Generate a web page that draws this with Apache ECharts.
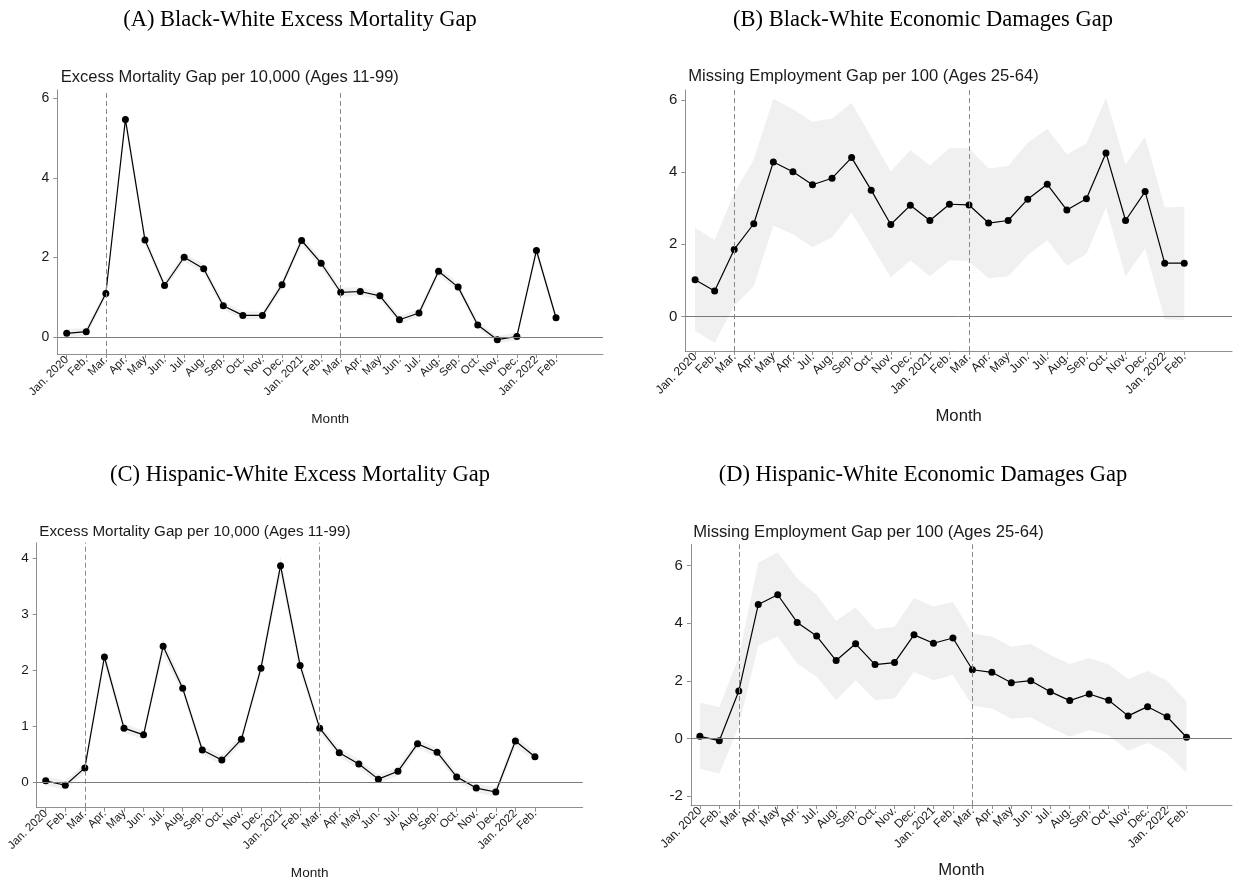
<!DOCTYPE html>
<html>
<head>
<meta charset="utf-8">
<title>Racial gaps in excess mortality and economic damages</title>
<script src="https://cdn.jsdelivr.net/npm/echarts@6/dist/echarts.min.js"></script>
<style>
  html, body { margin: 0; padding: 0; background: #ffffff; }
  #chart { width: 1235px; height: 884px; }
</style>
</head>
<body>
<div id="chart"></div>
<script>
// Month labels (Stata export keeps "Apr." in the sixth slot of the employment panels)
const monthsMortality = ["Jan. 2020","Feb.","Mar.","Apr.","May","Jun.","Jul.","Aug.","Sep.","Oct.","Nov.","Dec.",
  "Jan. 2021","Feb.","Mar.","Apr.","May","Jun.","Jul.","Aug.","Sep.","Oct.","Nov.","Dec.","Jan. 2022","Feb."];
const monthsEmployment = ["Jan. 2020","Feb.","Mar.","Apr.","May","Apr.","Jul.","Aug.","Sep.","Oct.","Nov.","Dec.",
  "Jan. 2021","Feb.","Mar.","Apr.","May","Jun.","Jul.","Aug.","Sep.","Oct.","Nov.","Dec.","Jan. 2022","Feb."];

// Months marking the start of the first and second pandemic years (Mar. 2020, Mar. 2021)
const markerMonths = [2, 14];

// (A) Black-White excess mortality gap per 10,000
const blackMortGap = [0.10,0.14,1.10,5.47,2.44,1.30,2.01,1.72,0.79,0.55,0.55,1.32,2.43,1.86,1.13,1.15,1.04,0.44,0.61,1.66,1.26,0.31,-0.06,0.02,2.18,0.49];
const blackMortLo  = [0.00,0.04,1.00,5.28,2.32,1.20,1.90,1.61,0.69,0.45,0.45,1.21,2.31,1.75,1.02,1.04,0.94,0.34,0.51,1.55,1.16,0.21,-0.15,-0.08,2.05,0.39];
const blackMortHi  = [0.20,0.24,1.20,5.66,2.56,1.40,2.12,1.83,0.89,0.65,0.65,1.43,2.55,1.97,1.24,1.26,1.14,0.54,0.71,1.77,1.36,0.41,0.03,0.12,2.31,0.59];

// (B) Black-White missing employment gap per 100
const blackEmpGap = [1.02,0.71,1.86,2.57,4.28,4.01,3.65,3.83,4.40,3.50,2.55,3.08,2.66,3.11,3.09,2.59,2.66,3.25,3.66,2.95,3.26,4.53,2.66,3.46,1.48,1.48];
const blackEmpLo  = [-0.39,-0.72,0.30,0.85,2.52,2.28,1.92,2.20,2.88,1.99,1.08,1.56,1.12,1.56,1.53,1.06,1.12,1.70,2.12,1.41,1.73,3.02,1.12,1.89,-0.07,-0.09];
const blackEmpHi  = [2.46,2.12,3.42,4.34,6.03,5.74,5.39,5.48,5.92,4.97,4.01,4.61,4.18,4.66,4.66,4.10,4.17,4.81,5.19,4.49,4.79,6.05,4.21,4.98,3.02,3.04];

// (C) Hispanic-White excess mortality gap per 10,000
const hispMortGap = [0.03,-0.05,0.26,2.24,0.97,0.85,2.43,1.68,0.58,0.40,0.77,2.04,3.87,2.09,0.97,0.53,0.33,0.06,0.20,0.69,0.54,0.10,-0.10,-0.17,0.74,0.46];
const hispMortLo  = [-0.05,-0.13,0.18,2.10,0.89,0.77,2.29,1.59,0.50,0.32,0.69,1.93,3.70,1.98,0.89,0.45,0.25,-0.02,0.12,0.61,0.46,0.02,-0.18,-0.25,0.64,0.38];
const hispMortHi  = [0.11,0.03,0.34,2.38,1.05,0.93,2.57,1.77,0.66,0.48,0.85,2.15,4.04,2.20,1.05,0.61,0.41,0.14,0.28,0.77,0.62,0.18,-0.02,-0.09,0.84,0.54];

// (D) Hispanic-White missing employment gap per 100
const hispEmpGap = [0.08,-0.07,1.65,4.65,4.99,4.03,3.56,2.71,3.29,2.57,2.64,3.60,3.31,3.49,2.39,2.30,1.94,2.01,1.63,1.32,1.55,1.33,0.79,1.11,0.76,0.05];
const hispEmpLo  = [-1.04,-1.21,0.42,3.23,3.54,2.61,2.15,1.34,2.03,1.34,1.39,2.31,2.03,2.21,1.14,1.05,0.69,0.74,0.38,0.07,0.30,0.12,-0.42,-0.14,-0.51,-1.18];
const hispEmpHi  = [1.25,1.09,2.84,6.10,6.46,5.55,4.99,4.09,4.55,3.79,3.88,4.88,4.58,4.74,3.65,3.54,3.19,3.28,2.90,2.59,2.80,2.57,2.06,2.35,2.01,1.29];

// Y tick values per panel
const yTicksA = [0, 2, 4, 6];
const yTicksB = [0, 2, 4, 6];
const yTicksC = [0, 1, 2, 3, 4];
const yTicksD = [-2, 0, 2, 4, 6];

// Panel titles and axis captions
const panelTitles = ["(A) Black-White Excess Mortality Gap", "(B) Black-White Economic Damages Gap",
  "(C) Hispanic-White Excess Mortality Gap", "(D) Hispanic-White Economic Damages Gap"];
const mortCaption = "Excess Mortality Gap per 10,000 (Ages 11-99)";
const empCaption = "Missing Employment Gap per 100 (Ages 25-64)";
const xCaption = "Month";

const SANS = "'Liberation Sans', Arial, Helvetica, sans-serif";
const SERIF = "'Liberation Serif', 'Times New Roman', serif";
const AXIS_GREY = "#8f8f8f";
const REF_GREY = "#8a8a8a";
const BAND = "#f0f0f0";
const INK = "#1a1a1a";

// Layout of each panel: plot box, axis extents, text sizes and positions
const panels = [
  { labels: monthsMortality, y: blackMortGap, lo: blackMortLo, hi: blackMortHi, yTicks: yTicksA,
    box: { left: 57.3, top: 90, width: 545.7, height: 264 }, xMin: -0.48, xMax: 27.40, yMin: -0.42, yMax: 6.21,
    yFont: 14, xFont: 11.5, caption: mortCaption, capX: 60.7, capY: 77.5, capFont: 16.5,
    title: panelTitles[0], titleX: 300, titleY: 20, monthY: 419.3, monthFont: 13.6 },
  { labels: monthsEmployment, y: blackEmpGap, lo: blackEmpLo, hi: blackEmpHi, yTicks: yTicksB,
    box: { left: 685.3, top: 90, width: 546.7, height: 261 }, xMin: -0.50, xMax: 27.44, yMin: -0.95, yMax: 6.27,
    yFont: 15, xFont: 12, caption: empCaption, capX: 688.3, capY: 76.5, capFont: 16.6,
    title: panelTitles[1], titleX: 923, titleY: 20, monthY: 416, monthFont: 16.7 },
  { labels: monthsMortality, y: hispMortGap, lo: hispMortLo, hi: hispMortHi, yTicks: yTicksC,
    box: { left: 36.7, top: 542.7, width: 546, height: 265 }, xMin: -0.46, xMax: 27.44, yMin: -0.45, yMax: 4.28,
    yFont: 13.5, xFont: 11.5, caption: mortCaption, capX: 39.3, capY: 532, capFont: 15.2,
    title: panelTitles[2], titleX: 300, titleY: 475, monthY: 873.3, monthFont: 13.6 },
  { labels: monthsEmployment, y: hispEmpGap, lo: hispEmpLo, hi: hispEmpHi, yTicks: yTicksD,
    box: { left: 690.9, top: 544.3, width: 541, height: 260.7 }, xMin: -0.46, xMax: 27.33, yMin: -2.30, yMax: 6.74,
    yFont: 15, xFont: 12, caption: empCaption, capX: 693.2, capY: 532, capFont: 16.6,
    title: panelTitles[3], titleX: 923, titleY: 475, monthY: 870, monthFont: 16.7 }
];

const grids = [], xAxes = [], yAxes = [], series = [], graphics = [];

panels.forEach((p, k) => {
  const idx = p.labels.map((_, i) => i);
  grids.push({ left: p.box.left, top: p.box.top, width: p.box.width, height: p.box.height, containLabel: false });

  xAxes.push({
    type: 'value', gridIndex: k, min: p.xMin, max: p.xMax,
    splitLine: { show: false },
    axisLine: { show: true, onZero: false, lineStyle: { color: AXIS_GREY, width: 1 } },
    axisTick: { show: true, length: 4, customValues: idx, lineStyle: { color: AXIS_GREY } },
    axisLabel: {
      show: true, customValues: idx, rotate: 45, margin: 4,
      fontFamily: SANS, fontSize: p.xFont, color: INK,
      formatter: (v) => p.labels[Math.round(v)]
    }
  });

  yAxes.push({
    type: 'value', gridIndex: k, min: p.yMin, max: p.yMax,
    splitLine: { show: false },
    axisLine: { show: true, onZero: false, lineStyle: { color: AXIS_GREY, width: 1 } },
    axisTick: { show: true, length: 4, customValues: p.yTicks, lineStyle: { color: AXIS_GREY } },
    axisLabel: { show: true, customValues: p.yTicks, margin: 8, fontFamily: SANS, fontSize: p.yFont, color: INK }
  });

  // Confidence band drawn as one polygon through the axis scales
  series.push({
    type: 'custom', xAxisIndex: k, yAxisIndex: k, silent: true, z: 1,
    data: idx.map(i => [i, p.lo[i], p.hi[i]]),
    encode: { x: 0, y: [1, 2] },
    renderItem: (params, api) => {
      if (params.dataIndex !== 0) return null;
      const upper = idx.map(i => api.coord([i, p.hi[i]]));
      const lower = idx.slice().reverse().map(i => api.coord([i, p.lo[i]]));
      return {
        type: 'polygon',
        shape: { points: upper.concat(lower) },
        style: { fill: BAND, stroke: null }
      };
    }
  });

  // Point estimates with reference lines
  series.push({
    type: 'line', xAxisIndex: k, yAxisIndex: k, z: 3,
    data: idx.map(i => [i, p.y[i]]),
    symbol: 'circle', symbolSize: 7,
    itemStyle: { color: '#000000' },
    lineStyle: { color: '#000000', width: 1.2 },
    markLine: {
      silent: true, symbol: ['none', 'none'], label: { show: false }, animation: false,
      data: markerMonths.map(m => ({ xAxis: m, lineStyle: { color: REF_GREY, type: [5, 3], width: 1 } }))
        .concat([{ yAxis: 0, lineStyle: { color: '#7a7a7a', type: 'solid', width: 1 } }])
    }
  });

  graphics.push({
    type: 'text', x: p.titleX, y: p.titleY, silent: true,
    style: { text: p.title, fontFamily: SERIF, fontSize: 22.5, fill: '#000000', align: 'center', verticalAlign: 'middle' }
  });
  graphics.push({
    type: 'text', x: p.capX, y: p.capY, silent: true,
    style: { text: p.caption, fontFamily: SANS, fontSize: p.capFont, fill: INK, align: 'left', verticalAlign: 'middle' }
  });
  graphics.push({
    type: 'text', x: p.box.left + p.box.width / 2, y: p.monthY, silent: true,
    style: { text: xCaption, fontFamily: SANS, fontSize: p.monthFont, fill: INK, align: 'center', verticalAlign: 'middle' }
  });
});

const chart = echarts.init(document.getElementById('chart'), null, { renderer: 'canvas' });
chart.setOption({
  animation: false,
  backgroundColor: '#ffffff',
  grid: grids,
  xAxis: xAxes,
  yAxis: yAxes,
  series: series,
  graphic: graphics
});
</script>
</body>
</html>
